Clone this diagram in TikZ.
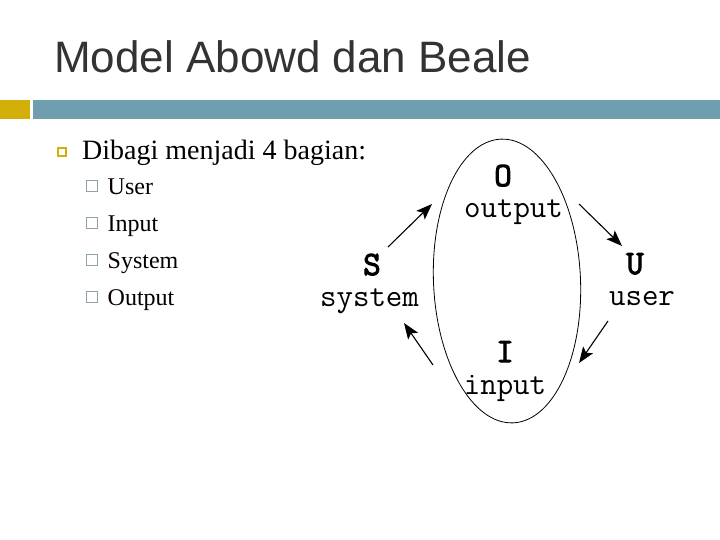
\documentclass[tikz,border=0pt]{standalone}
\usepackage{fontspec}
\setmainfont{Liberation Serif}
\setsansfont{Liberation Sans}
\newfontfamily\monoboldfont[FakeBold=3]{Latin Modern Mono}
\usetikzlibrary{arrows.meta}
\definecolor{titlegray}{HTML}{333333}
\definecolor{goldbar}{HTML}{D4AF0A}
\definecolor{tealbar}{HTML}{6F9EAF}
\definecolor{subsq}{HTML}{8CA3AA}
\tikzset{
  titletext/.style={anchor=base west,inner sep=0pt,font=\sffamily\fontsize{44}{48}\selectfont,text=titlegray},
  bodytext/.style={anchor=base west,inner sep=0pt,font=\fontsize{28}{32}\selectfont},
  subtext/.style={anchor=base west,inner sep=0pt,font=\fontsize{24}{28}\selectfont},
  bigletter/.style={anchor=base,inner sep=0pt,font=\monoboldfont\fontsize{34}{36}\selectfont},
  wordlabel/.style={anchor=base,inner sep=0pt,font=\ttfamily\fontsize{32}{34}\selectfont},
  cyclearrow/.style={-{Stealth[length=16pt,width=12pt,inset=3.5pt]},line width=1.1pt},
  subbox/.style={draw=subsq,line width=1pt},
}
\begin{document}
\begin{tikzpicture}[x=1pt,y=-1pt]
\useasboundingbox (0,0) rectangle (720,540);
\fill[white] (0,0) rectangle (720,540);
% title
\node[titletext] (title) at (54,73) {Model Abowd dan Beale};
% bars
\fill[goldbar] (0,100) rectangle (30,119);
\fill[tealbar] (33,100) rectangle (720,119);
% bullets
\draw[draw=goldbar,line width=1.8pt] (57.9,147.9) rectangle (66.1,156.1);
\node[bodytext] (main) at (82,160) {Dibagi menjadi 4 bagian:};
\foreach \y/\t/\n in {195/User/u,232/Input/i,268/System/s,305/Output/o}{
  \draw[subbox] (86.5,\y-14) rectangle (97.5,\y-3);
  \node[subtext] (sub\n) at (107.5,\y) {\t};
}
% diagram
\draw[line width=0.8pt,rotate around={2.5:(507,281)}] (507,281) ellipse [x radius=73.5,y radius=142];
\node[bigletter] (O) at (503,186) {O};
\node[wordlabel] (Ow) at (513.5,218) {output};
\node[bigletter] (S) at (372,275) {S};
\node[wordlabel] (Sw) at (369.5,306) {system};
\node[bigletter] (U) at (635,274) {U};
\node[wordlabel] (Uw) at (642,305) {user};
\node[bigletter] (I) at (505,362) {I};
\node[wordlabel] (Iw) at (505,394) {input};
\coordinate (a1s) at (388,247); \coordinate (a1e) at (432,204);
\coordinate (a2s) at (579,204); \coordinate (a2e) at (622,246);
\coordinate (a3s) at (608,321); \coordinate (a3e) at (579,363);
\coordinate (a4s) at (433,365); \coordinate (a4e) at (404,323);
\draw[cyclearrow] (a1s) -- (a1e);
\draw[cyclearrow] (a2s) -- (a2e);
\draw[cyclearrow] (a3s) -- (a3e);
\draw[cyclearrow] (a4s) -- (a4e);
\end{tikzpicture}
\end{document}
